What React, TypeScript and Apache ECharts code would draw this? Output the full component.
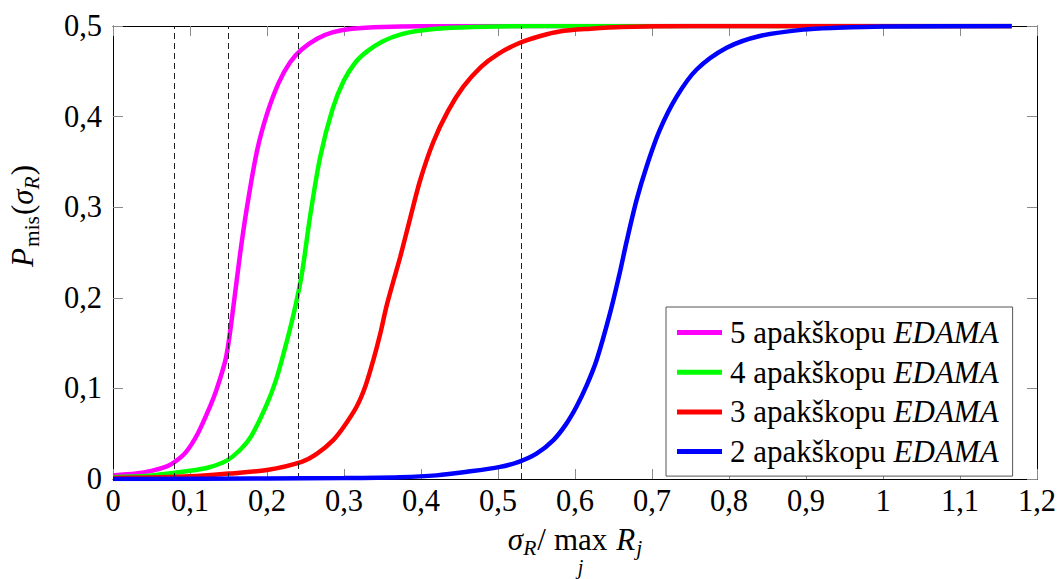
import React, { useEffect, useRef } from "react";
import * as echarts from "echarts";

const FONT = "Liberation Serif";

const seriesNames = ["5 apakškopu EDAMA", "4 apakškopu EDAMA", "3 apakškopu EDAMA", "2 apakškopu EDAMA"];
const seriesColors = ["#ff00ff", "#00ff00", "#ff0000", "#0000ff"];

const curve5: [number, number][] = [
  [0, 0.004], [0.03, 0.006], [0.05, 0.009], [0.07, 0.014], [0.0805, 0.019], [0.095, 0.03],
  [0.11, 0.05], [0.125, 0.078], [0.135, 0.1], [0.147, 0.135], [0.156, 0.188], [0.165, 0.248],
  [0.174, 0.3], [0.187, 0.362], [0.2, 0.403], [0.215, 0.437], [0.23, 0.46], [0.245, 0.474],
  [0.265, 0.486], [0.285, 0.493], [0.31, 0.497], [0.35, 0.499], [0.45, 0.5], [1.167, 0.5],
];
const curve4: [number, number][] = [
  [0, 0.002], [0.05, 0.004], [0.1, 0.009], [0.125, 0.013], [0.147, 0.02], [0.165, 0.032],
  [0.18, 0.048], [0.2, 0.083], [0.212, 0.11], [0.222, 0.14], [0.234, 0.18], [0.245, 0.225],
  [0.256, 0.29], [0.269, 0.355], [0.285, 0.408], [0.3, 0.44], [0.315, 0.46], [0.33, 0.472],
  [0.35, 0.483], [0.375, 0.491], [0.4, 0.495], [0.44, 0.498], [0.5, 0.4995], [0.6, 0.5], [1.167, 0.5],
];
const curve3: [number, number][] = [
  [0, 0.001], [0.1, 0.003], [0.15, 0.006], [0.2, 0.01], [0.245, 0.019], [0.265, 0.028],
  [0.286, 0.043], [0.3, 0.058], [0.3165, 0.08], [0.328, 0.103], [0.338, 0.131], [0.347, 0.16],
  [0.355, 0.19], [0.364, 0.218], [0.373, 0.245], [0.386, 0.288], [0.399, 0.33], [0.416, 0.372],
  [0.435, 0.406], [0.455, 0.433], [0.478, 0.455], [0.5, 0.469], [0.527, 0.481], [0.555, 0.489],
  [0.58, 0.494], [0.62, 0.497], [0.66, 0.499], [0.75, 0.5], [1.167, 0.5],
];
const curve2: [number, number][] = [
  [0, 0], [0.2, 0.0005], [0.3, 0.001], [0.373, 0.002], [0.42, 0.004], [0.46, 0.008],
  [0.5026, 0.0134], [0.527, 0.019], [0.55, 0.028], [0.572, 0.043], [0.588, 0.06], [0.602, 0.08],
  [0.615, 0.103], [0.628, 0.131], [0.6455, 0.183], [0.658, 0.227], [0.667, 0.262], [0.68, 0.308],
  [0.693, 0.345], [0.71, 0.385], [0.732, 0.422], [0.758, 0.452], [0.797, 0.476], [0.84, 0.489],
  [0.8965, 0.496], [0.94, 0.498], [1.0, 0.4995], [1.167, 0.5],
];
const curves = [curve5, curve4, curve3, curve2];

const dashX = [0.0805, 0.147, 0.245, 0.525];

const X_MIN = 0, X_MAX = 1.2, X_STEP = 0.1;
const Y_MIN = 0, Y_MAX = 0.5, Y_STEP = 0.1;

const fmt = (v: number) => String(Math.round(v * 10) / 10).replace(".", ",");

type Piece = { t: string; s: number; i: boolean; dy?: number; gap?: number; under?: string };

let ctx: CanvasRenderingContext2D | null = null;
function textW(t: string, s: number, italic: boolean) {
  if (!ctx) ctx = document.createElement("canvas").getContext("2d");
  if (!ctx) return t.length * s * 0.5;
  ctx.font = `${italic ? "italic " : ""}${s}px "${FONT}"`;
  return ctx.measureText(t).width;
}

function layoutPieces(pieces: Piece[]) {
  let cur = 0;
  const out: { p: Piece; x: number; w: number }[] = [];
  for (const p of pieces) {
    cur += p.gap || 0;
    const w = textW(p.t, p.s, p.i);
    out.push({ p, x: cur, w });
    cur += w;
  }
  return { out, total: cur };
}

function textEl(t: string, x: number, baseline: number, s: number, italic: boolean) {
  return {
    type: "text",
    x,
    y: baseline - 0.3375 * s,
    style: {
      text: t,
      fontSize: s,
      fontFamily: FONT,
      fontStyle: italic ? "italic" : "normal",
      fill: "#000",
      align: "left",
      verticalAlign: "middle",
    },
  };
}

export default function App() {
  const ref = useRef<HTMLDivElement>(null);
  useEffect(() => {
    if (!ref.current) return;
    const chart = echarts.init(ref.current, null, { renderer: "svg" });

    const xPieces: Piece[] = [
      { t: "σ", s: 31, i: true },
      { t: "R", s: 21.5, i: true, dy: 5 },
      { t: "/", s: 31, i: false, gap: 1 },
      { t: "max", s: 31, i: false, gap: 8, under: "j" },
      { t: "R", s: 31, i: true, gap: 9 },
      { t: "j", s: 21.5, i: true, dy: 5, gap: 1 },
    ];
    const xl = layoutPieces(xPieces);
    const xStart = 575 - xl.total / 2;
    const xBase = 550;
    const xEls: any[] = [];
    for (const { p, x, w } of xl.out) {
      xEls.push(textEl(p.t, xStart + x, xBase + (p.dy || 0), p.s, p.i));
      if (p.under) {
        const uw = textW(p.under, 20, true);
        xEls.push(textEl(p.under, xStart + x + w / 2 - uw / 2, xBase + 24, 20, true));
      }
    }

    const yPieces: Piece[] = [
      { t: "P", s: 31, i: true },
      { t: "mis", s: 21.5, i: false, dy: 6, gap: 1 },
      { t: "(", s: 31, i: false, gap: 1 },
      { t: "σ", s: 31, i: true },
      { t: "R", s: 21.5, i: true, dy: 6 },
      { t: ")", s: 31, i: false, gap: 1 },
    ];
    const yl = layoutPieces(yPieces);
    const yEls: any[] = yl.out.map(({ p, x }) => textEl(p.t, x, p.dy || 0, p.s, p.i));

    const axisCommon = {
      type: "value",
      axisLine: { show: true, onZero: false, lineStyle: { color: "#000", width: 1 } },
      axisTick: { show: true, inside: true, length: 10, lineStyle: { color: "#8a8a8a", width: 1 } },
      splitLine: { show: false },
    };

    const series: any[] = curves.map((c, k) => ({
      name: seriesNames[k],
      type: "line",
      data: c,
      showSymbol: false,
      symbol: "none",
      smooth: 0.3,
      color: seriesColors[k],
      lineStyle: { color: seriesColors[k], width: 4.5 },
      z: 2 + k,
      xAxisIndex: 0,
      yAxisIndex: 0,
    }));
    series.push({
      name: "dash",
      type: "line",
      data: [],
      xAxisIndex: 0,
      yAxisIndex: 0,
      z: 10,
      markLine: {
        silent: true,
        symbol: ["none", "none"],
        label: { show: false },
        lineStyle: { type: [6, 4], color: "#222", width: 1 },
        data: dashX.map((x) => ({ xAxis: x })),
      },
    });

    chart.setOption({
      animation: false,
      textStyle: { fontFamily: FONT },
      grid: { left: 113, right: 26, top: 26, bottom: 100 },
      xAxis: [
        {
          ...axisCommon,
          min: X_MIN, max: X_MAX, interval: X_STEP, position: "bottom",
          axisLabel: { formatter: fmt, fontSize: 30.5, fontFamily: FONT, color: "#000", margin: 6 },
        },
        {
          ...axisCommon,
          min: X_MIN, max: X_MAX, interval: X_STEP, position: "top",
          axisLabel: { show: false },
        },
      ],
      yAxis: [
        {
          ...axisCommon,
          min: Y_MIN, max: Y_MAX, interval: Y_STEP, position: "left",
          axisLabel: { formatter: fmt, fontSize: 30.5, fontFamily: FONT, color: "#000", margin: 11 },
        },
        {
          ...axisCommon,
          min: Y_MIN, max: Y_MAX, interval: Y_STEP, position: "right",
          axisLabel: { show: false },
        },
      ],
      legend: {
        data: seriesNames,
        orient: "vertical",
        left: 666,
        top: 307,
        padding: [10, 14, 9, 11],
        itemGap: 8.7,
        itemWidth: 45,
        itemHeight: 5,
        icon: "rect",
        borderColor: "#555",
        borderWidth: 1,
        backgroundColor: "#fff",
        formatter: (name: string) => {
          const idx = name.lastIndexOf(" ");
          return `{n|${name.slice(0, idx + 1)}}{i|${name.slice(idx + 1)}}`;
        },
        textStyle: {
          padding: [0, 0, 0, 3],
          lineHeight: 28,
          fontFamily: FONT,
          fontSize: 31,
          rich: {
            n: { fontSize: 31, fontFamily: FONT, color: "#000", lineHeight: 28 },
            i: { fontSize: 31, fontFamily: FONT, fontStyle: "italic", color: "#000", lineHeight: 28 },
          },
        },
      },
      graphic: [
        { type: "group", children: xEls },
        {
          type: "group",
          x: 33,
          y: 216 + yl.total / 2,
          rotation: Math.PI / 2,
          children: yEls,
        },
      ],
      series,
    });
    return () => chart.dispose();
  }, []);
  return (
    <div
      ref={ref}
      style={{ position: "fixed", left: 0, top: 0, width: 1063, height: 579, background: "#fff" }}
    />
  );
}
